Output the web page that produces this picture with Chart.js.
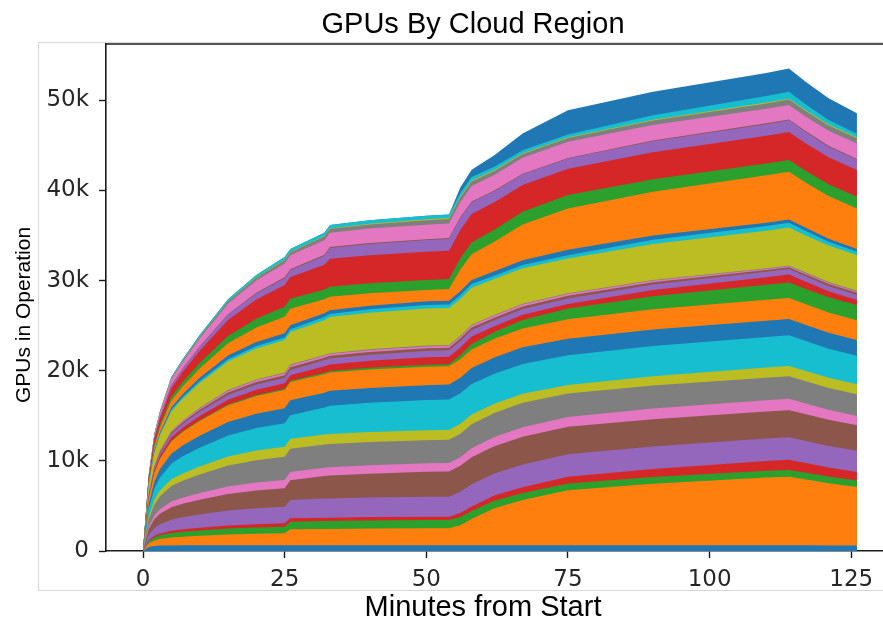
<!DOCTYPE html>
<html>
<head>
<meta charset="utf-8">
<script src="https://cdn.jsdelivr.net/npm/chart.js@4.4.1/dist/chart.umd.min.js"></script>
<style>
  html, body { margin: 0; padding: 0; background: #ffffff; }
  #wrap { position: relative; width: 883px; height: 619px; }
</style>
</head>
<body>
<div id="wrap"><canvas id="chart"></canvas></div>
<script>
// Sample times (minutes from start)
const minutes = [0, 1, 2, 3, 5, 7, 10, 15, 20, 25, 26, 32, 33, 40, 50, 54, 56, 58, 62, 67, 75, 90, 110, 114, 117, 121, 126];

// GPUs in operation per cloud region, in thousands, stacked bottom to top
const region01 = [0, .45, .55, .6, .62, .63, .64, .65, .65, .65, .65, .65, .65, .65, .65, .65, .65, .65, .65, .65, .65, .65, .65, .65, .64, .62, .6];
const region02 = [0, .41, .62, .73, .88, .96, 1.05, 1.18, 1.26, 1.31, 1.76, 1.8, 1.8, 1.84, 1.87, 1.87, 2.2, 2.9, 4.1, 5.0, 6.1, 6.8, 7.5, 7.6, 7.3, 6.9, 6.5];
const region03 = [0, .23, .35, .41, .5, .54, .59, .67, .71, .74, .84, .88, .88, .9, .92, .92, .92, .9, .82, .78, .74, .75, .75, .75, .75, .74, .73];
const region04 = [0, .11, .17, .21, .25, .27, .3, .33, .36, .37, .37, .37, .37, .37, .37, .37, .45, .5, .58, .65, .74, .9, 1.08, 1.12, 1.06, 1.0, .93];
const region05 = [0, .57, .86, 1.02, 1.23, 1.34, 1.46, 1.65, 1.76, 1.83, 2.03, 2.12, 2.12, 2.17, 2.22, 2.22, 2.35, 2.45, 2.45, 2.52, 2.5, 2.5, 2.5, 2.5, 2.46, 2.4, 2.35];
const region06 = [0, .64, .97, 1.15, 1.38, 1.5, 1.65, 1.85, 1.98, 2.06, 2.2, 2.5, 2.55, 2.65, 2.77, 2.8, 2.9, 3.0, 3.02, 3.08, 3.05, 3.02, 3.0, 3.0, 2.96, 2.9, 2.85];
const region07 = [0, .29, .43, .52, .62, .67, .74, .83, .88, .92, .92, .92, .92, .93, .93, .93, .93, 1.0, 1.02, 1.06, 1.1, 1.18, 1.24, 1.26, 1.2, 1.1, 1.03];
const region08 = [0, .8, 1.21, 1.44, 1.73, 1.88, 2.06, 2.32, 2.48, 2.58, 2.58, 2.58, 2.58, 2.58, 2.57, 2.57, 2.62, 2.65, 2.68, 2.72, 2.6, 2.55, 2.5, 2.5, 2.47, 2.43, 2.4];
const region09 = [0, .34, .52, .62, .74, .81, .89, 1.0, 1.07, 1.11, 1.11, 1.1, 1.1, 1.1, 1.1, 1.1, 1.1, 1.1, 1.02, .98, .93, 1.05, 1.13, 1.15, 1.13, 1.12, 1.1];
const region10 = [0, .81, 1.22, 1.46, 1.74, 1.9, 2.08, 2.34, 2.5, 2.6, 2.6, 3.0, 3.15, 3.25, 3.35, 3.38, 3.38, 3.38, 3.33, 3.32, 3.3, 3.35, 3.4, 3.4, 3.33, 3.24, 3.16];
const region11 = [0, .51, .78, .93, 1.11, 1.21, 1.33, 1.49, 1.59, 1.66, 1.66, 1.65, 1.65, 1.65, 1.65, 1.65, 1.72, 1.78, 1.8, 1.85, 1.85, 1.82, 1.8, 1.8, 1.78, 1.76, 1.75];
const region12 = [0, .63, .95, 1.14, 1.36, 1.48, 1.62, 1.83, 1.95, 2.03, 2.03, 2.04, 2.04, 2.05, 2.05, 2.05, 2.05, 2.05, 2.07, 2.08, 2.15, 2.25, 2.33, 2.35, 2.3, 2.25, 2.2];
const region13 = [0, .04, .06, .07, .08, .09, .11, .12, .13, .14, .14, .17, .17, .18, .2, .2, .45, .6, .75, .95, 1.2, 1.45, 1.65, 1.7, 1.7, 1.7, 1.7];
const region14 = [0, .15, .24, .28, .36, .4, .46, .53, .57, .6, .6, .72, .72, .78, .85, .85, .85, .85, .65, .58, .5, .7, .85, .9, .8, .66, .55];
const region15 = [0, .15, .24, .28, .36, .4, .46, .53, .57, .6, .6, .65, .65, .68, .7, .7, .7, .7, .65, .62, .6, .6, .6, .6, .58, .56, .55];
const region16 = [0, .08, .12, .14, .18, .2, .23, .26, .29, .3, .3, .3, .3, .3, .3, .3, .3, .3, .3, .3, .3, .25, .2, .2, .22, .24, .25];
const region17 = [0, .05, .08, .09, .12, .13, .15, .18, .19, .2, .2, .2, .2, .2, .2, .2, .2, .2, .2, .2, .2, .15, .1, .1, .11, .12, .12];
const region18 = [0, .03, .04, .05, .06, .07, .08, .09, .1, .1, .1, .1, .1, .1, .1, .1, .1, .1, .1, .1, .1, .1, .1, .1, .1, .1, .1];
const region19 = [0, .9, 1.44, 1.69, 2.16, 2.41, 2.74, 3.17, 3.42, 3.6, 3.6, 3.85, 4.0, 4.05, 4.1, 4.1, 4.1, 4.1, 3.98, 3.92, 3.85, 4.0, 4.15, 4.2, 4.12, 4.05, 3.97];
const region20 = [0, .08, .12, .14, .18, .2, .23, .26, .29, .3, .3, .35, .35, .38, .4, .4, .4, .4, .38, .36, .35, .45, .53, .55, .5, .42, .36];
const region21 = [0, .11, .18, .21, .27, .3, .34, .4, .43, .45, .45, .42, .42, .41, .4, .4, .45, .47, .5, .55, .6, .48, .37, .35, .34, .32, .3];
const region22 = [0, .22, .41, .52, .74, .85, 1.04, 1.37, 1.63, 1.85, 1.85, 1.55, 1.5, 1.38, 1.26, 1.3, 2.4, 2.85, 3.25, 3.95, 4.6, 4.85, 5.25, 5.3, 5.0, 4.75, 4.5];
const region23 = [0, .13, .24, .31, .44, .51, .62, .81, .97, 1.1, 1.1, 1.1, 1.1, 1.1, 1.11, 1.11, 1.25, 1.3, 1.35, 1.42, 1.5, 1.4, 1.32, 1.3, 1.3, 1.3, 1.3];
const region24 = [0, .29, .53, .67, .96, 1.1, 1.34, 1.78, 2.11, 2.4, 2.4, 2.75, 3.1, 3.12, 3.13, 3.15, 3.15, 3.15, 3.05, 2.98, 2.9, 3.0, 3.08, 3.1, 3.06, 3.0, 2.97];
const region25 = [0, .09, .17, .21, .3, .35, .43, .56, .67, .76, .76, 1.0, 1.2, 1.25, 1.3, 1.3, 1.3, 1.3, 1.22, 1.18, 1.15, 1.22, 1.28, 1.3, 1.25, 1.18, 1.13];
const region26 = [0, .01, .02, .03, .04, .05, .06, .07, .09, .1, .1, .1, .1, .1, .1, .1, .1, .1, .08, .06, .05, .08, .1, .1, .1, .1, .1];
const region27 = [0, .19, .34, .43, .62, .71, .87, 1.15, 1.36, 1.55, 1.55, 1.6, 1.6, 1.6, 1.6, 1.62, 1.7, 1.72, 1.72, 1.76, 1.8, 1.7, 1.62, 1.6, 1.63, 1.66, 1.7];
const region28 = [0, .04, .08, .1, .14, .16, .2, .26, .31, .35, .35, .42, .42, .46, .5, .5, .5, .5, .45, .42, .4, .5, .58, .6, .6, .6, .6];
const region29 = [0, .01, .01, .01, .02, .02, .03, .04, .04, .05, .05, .07, .07, .08, .1, .1, .1, .1, .1, .1, .1, .1, .1, .1, .1, .1, .1];
const region30 = [0, .04, .07, .08, .12, .14, .17, .22, .26, .3, .3, .35, .35, .38, .4, .4, .4, .4, .35, .32, .3, .5, .72, .76, .65, .5, .4];
const region31 = [0, 0, 0, 0, 0, 0, 0, 0, 0, 0, 0, 0, 0, 0, 0, 0, .6, .8, 1.3, 1.85, 2.7, 2.6, 2.55, 2.59, 2.5, 2.4, 2.26];

const regionSeries = [
  region01, region02, region03, region04, region05, region06, region07, region08, region09, region10,
  region11, region12, region13, region14, region15, region16, region17, region18, region19, region20,
  region21, region22, region23, region24, region25, region26, region27, region28, region29, region30,
  region31
];

const xTicks = [0, 25, 50, 75, 100, 125];
const yTicks = [0, 10, 20, 30, 40, 50];

const chartTitle = 'GPUs By Cloud Region';
const xTitle = 'Minutes from Start';
const yTitle = 'GPUs in Operation';

const palette = ['#1f77b4', '#ff7f0e', '#2ca02c', '#d62728', '#9467bd',
                 '#8c564b', '#e377c2', '#7f7f7f', '#bcbd22', '#17becf'];

const datasets = regionSeries.map((vals, i) => ({
  label: 'Region ' + (i + 1),
  data: vals.map((v, j) => ({ x: minutes[j], y: v })),
  backgroundColor: palette[i % palette.length],
  borderColor: palette[i % palette.length],
  borderWidth: 0,
  pointRadius: 0,
  tension: 0,
  fill: 'origin'
}));

const ink = '#1a1a1a';

// Frame, top spine and the title texts
const decorations = {
  id: 'decorations',
  beforeDraw(chart) {
    const ctx = chart.ctx;
    ctx.save();
    ctx.strokeStyle = '#d6d6d6';
    ctx.lineWidth = 1;
    ctx.strokeRect(38.5, 42.5, 900, 548);
    ctx.restore();
  },
  afterDraw(chart) {
    const { ctx, chartArea: a } = chart;
    ctx.save();
    ctx.strokeStyle = ink;
    ctx.lineWidth = 1.6;
    ctx.beginPath();
    ctx.moveTo(a.left - 0.8, a.top);
    ctx.lineTo(a.right, a.top);
    ctx.stroke();

    ctx.fillStyle = '#000000';
    ctx.textAlign = 'center';
    ctx.textBaseline = 'alphabetic';
    ctx.font = '29px "Liberation Sans", Arial, sans-serif';
    ctx.fillText(chartTitle, 473, 33);
    ctx.font = '29px "Liberation Sans", Arial, sans-serif';
    ctx.fillText(xTitle, 483, 616);
    ctx.translate(29.5, 315);
    ctx.rotate(-Math.PI / 2);
    ctx.font = '21px "Liberation Sans", Arial, sans-serif';
    ctx.fillText(yTitle, 0, 0);
    ctx.restore();
  }
};

new Chart(document.getElementById('chart'), {
  type: 'line',
  data: { datasets },
  plugins: [decorations],
  options: {
    responsive: true,
    maintainAspectRatio: false,
    animation: false,
    events: [],
    layout: { padding: { top: 44, left: 0, right: 0, bottom: 0 } },
    plugins: {
      legend: { display: false },
      title: { display: false },
      tooltip: { enabled: false },
      filler: { propagate: false }
    },
    scales: {
      x: {
        type: 'linear',
        min: -6.53,
        max: 130.6,
        afterBuildTicks: s => { s.ticks = xTicks.map(v => ({ value: v })); },
        afterFit: s => { s.height = 68; },
        grid: { drawOnChartArea: false, drawTicks: true, tickLength: 7, tickColor: ink, tickWidth: 1.4 },
        border: { display: true, color: ink, width: 1.6 },
        ticks: {
          color: '#262626',
          font: { family: '"DejaVu Sans"', size: 23 },
          padding: 8,
          maxRotation: 0,
          autoSkip: false,
          callback: v => String(v)
        }
      },
      y: {
        type: 'linear',
        stacked: true,
        min: 0,
        max: 56.25,
        afterBuildTicks: s => { s.ticks = yTicks.map(v => ({ value: v })); },
        afterFit: s => { s.width = 106; },
        grid: { drawOnChartArea: false, drawTicks: true, tickLength: 7, tickColor: ink, tickWidth: 1.4 },
        border: { display: true, color: ink, width: 1.6 },
        ticks: {
          color: '#262626',
          font: { family: '"DejaVu Sans"', size: 23 },
          padding: 10,
          callback: v => (v === 0 ? '0' : v + 'k')
        }
      }
    }
  }
});
</script>
</body>
</html>
